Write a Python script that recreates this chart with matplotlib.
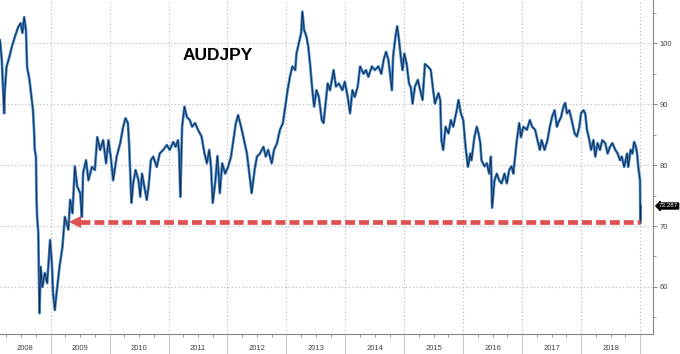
import matplotlib
matplotlib.use("Agg")
from matplotlib import pyplot as plt
from matplotlib import transforms
from matplotlib.ticker import MultipleLocator, FixedLocator

# AUDJPY (time as decimal year)
t_year = [
    2008.14, 2008.17, 2008.21, 2008.22, 2008.25, 2008.30, 2008.34, 2008.39, 2008.45, 2008.49,
    2008.52, 2008.55, 2008.58, 2008.60, 2008.64, 2008.68, 2008.70, 2008.72, 2008.73, 2008.75,
    2008.76, 2008.77, 2008.79, 2008.81, 2008.83, 2008.86, 2008.90, 2008.94, 2008.99, 2009.02,
    2009.04, 2009.07, 2009.10, 2009.15, 2009.20, 2009.24, 2009.30, 2009.33, 2009.37, 2009.41,
    2009.45, 2009.50, 2009.53, 2009.55, 2009.60, 2009.64, 2009.70, 2009.75, 2009.79, 2009.84,
    2009.89, 2009.94, 2009.98, 2010.02, 2010.06, 2010.12, 2010.18, 2010.23, 2010.27, 2010.31,
    2010.33, 2010.37, 2010.40, 2010.44, 2010.49, 2010.52, 2010.55, 2010.59, 2010.63, 2010.66,
    2010.70, 2010.74, 2010.80, 2010.85, 2010.91, 2010.97, 2011.02, 2011.08, 2011.12, 2011.16,
    2011.18, 2011.20, 2011.23, 2011.27, 2011.31, 2011.36, 2011.40, 2011.45, 2011.50, 2011.56,
    2011.61, 2011.65, 2011.69, 2011.72, 2011.75, 2011.79, 2011.83, 2011.87, 2011.91, 2011.96,
    2012.01, 2012.06, 2012.10, 2012.14, 2012.18, 2012.23, 2012.27, 2012.33, 2012.37, 2012.41,
    2012.46, 2012.50, 2012.55, 2012.61, 2012.65, 2012.69, 2012.75, 2012.79, 2012.84, 2012.89,
    2012.94, 2012.98, 2013.02, 2013.06, 2013.10, 2013.15, 2013.17, 2013.21, 2013.25, 2013.27,
    2013.30, 2013.34, 2013.37, 2013.40, 2013.44, 2013.47, 2013.51, 2013.55, 2013.60, 2013.63,
    2013.67, 2013.70, 2013.74, 2013.80, 2013.84, 2013.89, 2013.95, 2013.99, 2014.04, 2014.08,
    2014.12, 2014.16, 2014.21, 2014.25, 2014.31, 2014.35, 2014.39, 2014.45, 2014.50, 2014.56,
    2014.61, 2014.65, 2014.69, 2014.73, 2014.77, 2014.79, 2014.81, 2014.85, 2014.88, 2014.91,
    2014.94, 2014.97, 2015.00, 2015.04, 2015.08, 2015.11, 2015.14, 2015.18, 2015.23, 2015.27,
    2015.31, 2015.35, 2015.41, 2015.45, 2015.49, 2015.52, 2015.58, 2015.61, 2015.63, 2015.66,
    2015.70, 2015.75, 2015.79, 2015.83, 2015.89, 2015.92, 2015.96, 2016.00, 2016.04, 2016.08,
    2016.12, 2016.14, 2016.19, 2016.23, 2016.26, 2016.29, 2016.31, 2016.36, 2016.40, 2016.44,
    2016.47, 2016.49, 2016.53, 2016.57, 2016.61, 2016.65, 2016.70, 2016.74, 2016.78, 2016.82,
    2016.85, 2016.88, 2016.91, 2016.95, 2016.98, 2017.02, 2017.08, 2017.13, 2017.17, 2017.22,
    2017.26, 2017.30, 2017.33, 2017.38, 2017.43, 2017.47, 2017.51, 2017.55, 2017.59, 2017.61,
    2017.66, 2017.70, 2017.73, 2017.76, 2017.80, 2017.84, 2017.89, 2017.93, 2017.97, 2018.00,
    2018.04, 2018.07, 2018.10, 2018.14, 2018.17, 2018.21, 2018.24, 2018.28, 2018.32, 2018.36,
    2018.41, 2018.45, 2018.49, 2018.53, 2018.58, 2018.62, 2018.66, 2018.69, 2018.73, 2018.78,
    2018.80, 2018.84, 2018.87, 2018.90, 2018.93, 2018.95, 2018.97, 2019.00, 2019.005, 2019.007,
]
audjpy = [
    100.5, 97.3, 88.5, 91.8, 96.1, 97.8, 99.4, 101.0, 102.7, 103.3,
    101.7, 104.3, 102.2, 96.1, 94.0, 90.7, 89.0, 85.2, 82.5, 81.4,
    74.3, 71.5, 68.8, 55.7, 63.3, 60.0, 62.3, 60.6, 67.7, 63.9,
    59.0, 56.2, 59.0, 63.3, 66.6, 71.5, 69.4, 74.3, 72.1, 79.8,
    76.5, 75.4, 71.5, 78.7, 80.8, 77.5, 79.7, 79.2, 84.6, 82.5,
    84.1, 80.3, 84.1, 81.3, 77.5, 81.4, 83.6, 86.3, 87.7, 86.9,
    83.6, 73.8, 77.0, 79.2, 77.5, 74.8, 78.6, 76.4, 74.3, 76.4,
    80.8, 81.4, 79.7, 81.9, 82.5, 83.3, 82.5, 83.8, 83.0, 84.1,
    81.9, 74.8, 86.3, 89.6, 87.9, 87.4, 86.3, 86.9, 85.8, 84.7,
    81.9, 80.3, 82.5, 79.8, 73.8, 77.0, 81.5, 75.4, 80.3, 78.6,
    79.7, 81.4, 84.1, 86.8, 88.2, 86.3, 84.6, 81.9, 78.6, 75.4,
    79.2, 81.4, 81.9, 83.0, 81.4, 82.5, 80.3, 82.5, 83.6, 85.8,
    86.9, 89.6, 92.3, 94.5, 96.2, 95.6, 98.3, 100.0, 101.7, 105.2,
    102.2, 101.1, 99.5, 96.7, 92.3, 89.6, 92.3, 91.2, 87.4, 86.9,
    90.7, 93.4, 92.3, 95.6, 92.9, 93.4, 92.3, 93.7, 91.2, 88.5,
    92.3, 91.2, 92.9, 96.2, 95.0, 95.6, 94.5, 96.2, 95.6, 96.2,
    95.0, 97.3, 98.6, 97.3, 94.0, 92.3, 97.8, 101.1, 102.8, 100.6,
    97.8, 95.6, 98.3, 96.6, 93.4, 92.8, 90.1, 92.9, 94.0, 92.3,
    90.7, 96.6, 96.1, 95.6, 92.3, 90.1, 91.8, 90.7, 84.1, 82.5,
    86.3, 85.2, 87.4, 86.3, 89.0, 90.7, 88.5, 87.4, 83.0, 79.7,
    81.9, 80.8, 84.6, 86.3, 85.2, 83.6, 80.8, 79.8, 80.3, 78.6,
    81.4, 73.0, 77.5, 78.6, 77.5, 77.0, 78.6, 77.0, 79.2, 79.8,
    78.6, 81.4, 84.1, 86.9, 84.6, 86.3, 85.8, 87.4, 86.3, 85.8,
    84.1, 82.5, 84.1, 82.5, 84.1, 86.3, 88.0, 89.0, 86.3, 86.9,
    87.9, 89.6, 90.2, 88.5, 89.0, 87.4, 85.2, 84.7, 86.3, 88.5,
    89.0, 88.5, 85.8, 84.1, 82.5, 84.1, 81.4, 83.6, 82.5, 84.1,
    83.6, 81.9, 83.0, 83.6, 82.5, 81.9, 80.8, 81.4, 79.7, 81.9,
    79.7, 82.5, 81.9, 83.8, 83.0, 81.9, 79.7, 77.5, 70.5, 73.287,
]
years = [2008, 2009, 2010, 2011, 2012, 2013, 2014, 2015, 2016, 2017, 2018]
support_level = 70.6
last_price = 73.287

x_min, x_max = 2008.14, 2019.22

fig = plt.figure(figsize=(6.8, 3.54), dpi=100)
ax = fig.add_axes([0, 20 / 354, 653 / 680, 334 / 354])

# price line: blue band with dark line on top (terminal look)
ax.plot(t_year, audjpy, color="#3b82d0", linewidth=1.9, zorder=3)
ax.plot(t_year, audjpy, color="#111a26", linewidth=0.6, alpha=0.9, zorder=4)

# red dashed support arrow
ax.plot([2009.5, 2019.0], [support_level, support_level], color="#df5050",
        linewidth=3.4, dashes=(2.1, 0.85), solid_capstyle="butt", zorder=5)
ax.plot([2009.42], [support_level], marker="<", markersize=9, color="#df5050",
        markeredgewidth=0, zorder=5)

ax.set_xlim(x_min, x_max)
ax.set_ylim(52.27, 107.11)

# spines
for s in ["top", "left"]:
    ax.spines[s].set_visible(False)
for s in ["right", "bottom"]:
    ax.spines[s].set_color("#888888")
    ax.spines[s].set_linewidth(0.8)

# grid
grid_kw = dict(color="#b5b5b5", linewidth=0.8, linestyle=(0, (1, 2.2)), zorder=1)
for y in [60, 70, 80, 90, 100]:
    ax.axhline(y, **grid_kw)
for yr in years[1:] + [2019]:
    ax.axvline(yr, **grid_kw)

# x axis: year separators and quarter ticks, labels at year centres
ax.xaxis.set_major_locator(FixedLocator(years[1:] + [2019]))
ax.xaxis.set_minor_locator(FixedLocator([y + q / 4 for y in years for q in (1, 2, 3)
                                         if x_min < y + q / 4 < x_max]))
ax.tick_params(axis="x", which="major", direction="out", length=15, width=0.7,
               color="#c8c8c8", labelbottom=False)
ax.tick_params(axis="x", which="minor", direction="out", length=2.5, width=0.6,
               color="#888888")
trans = transforms.blended_transform_factory(ax.transData, ax.transAxes)
for yr in years:
    left = max(yr, x_min)
    ax.text((left + yr + 1) / 2, -0.042, str(yr), transform=trans, ha="center",
            va="center", fontsize=5.5, color="#444444", family="Liberation Sans")

# y axis on the right
ax.yaxis.tick_right()
ax.yaxis.set_major_locator(MultipleLocator(10))
ax.yaxis.set_minor_locator(FixedLocator([55, 65, 75, 85, 95, 105]))
ax.tick_params(axis="y", which="major", direction="out", length=3, width=0.7,
               color="#888888", labelsize=5.5, labelcolor="#444444", pad=1.5)
ax.tick_params(axis="y", which="minor", direction="out", length=2, width=0.6,
               color="#888888")
for lab in ax.get_yticklabels():
    lab.set_family("Liberation Sans")

# last price tag
ytrans = transforms.blended_transform_factory(ax.transAxes, ax.transData)
ax.text(1.009, last_price, f"{last_price:.3f}", transform=ytrans, ha="left",
        va="center", fontsize=4.5, color="white", family="Liberation Sans",
        bbox=dict(boxstyle="larrow,pad=0.08", fc="black", ec="black"),
        clip_on=False, zorder=6)

fig.text(218 / 680, (354 - 56) / 354, "AUDJPY", ha="center", va="center",
         fontsize=12.5, fontweight="bold", family="Liberation Sans", color="black")

fig.savefig("out.png", dpi=100)
